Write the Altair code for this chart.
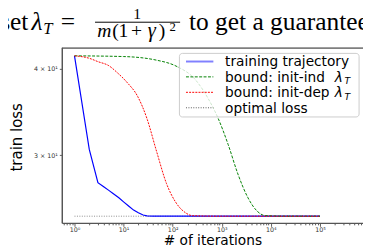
import altair as alt
import pandas as pd

# ---------------- data ----------------
train_iter = [1, 2, 3, 4, 5, 6, 8, 10, 13, 16, 20, 25, 30, 40, 100, 1000, 10000, 100000]
train_loss = [41.8, 30.6, 27.4, 27.0, 26.7, 26.45, 26.05, 25.7, 25.3, 25.0, 24.78, 24.6, 24.53, 24.5,
              24.5, 24.5, 24.5, 24.5]

ind_iter = [1, 10, 47, 117, 290, 535, 850, 1350, 2130, 3370, 5300, 7700, 20000, 100000]
ind_loss = [41.8, 41.7, 41.2, 40.4, 38.6, 36.2, 33.9, 31.1, 28.2, 26.1, 24.9, 24.55, 24.5, 24.5]

dep_iter = [1, 2, 3, 5, 7.5, 12, 19, 30, 47, 75, 118, 186, 254, 1000, 100000]
dep_loss = [41.8, 41.46, 41.0, 40.45, 39.5, 38.2, 36.6, 33.9, 30.4, 27.3, 25.6, 24.76, 24.54, 24.5, 24.5]

opt_iter = [1, 100000]
opt_loss = [24.5, 24.5]

x_major = [1, 10, 100, 1000, 10000, 100000]
x_minor = [m * 10.0 ** k for k in range(-1, 6) for m in range(2, 10)]
x_minor = [v for v in x_minor if 0.55 <= v <= 7.5e5]
y_ticks = [30, 40]

legend_labels = ["training trajectory", "bound: init-ind", "bound: init-dep", "optimal loss"]

# ---------------- chart ----------------
W, H = 308, 179.5
dummy = alt.Data(values=[{}])

xscale = alt.Scale(type="log", domain=[0.551, 7.53e5], nice=False)
yscale = alt.Scale(type="log", domain=[23.96, 43.0], nice=False, zero=False)

sup = {1: "10⁰", 10: "10¹", 100: "10²", 1000: "10³", 10000: "10⁴", 100000: "10⁵"}
label_expr = " : ".join([f"datum.value == {k} ? '{v}'" for k, v in sup.items()]) + " : ''"
major_test = "indexof([1,10,100,1000,10000,100000], datum.value) >= 0"

xaxis = alt.Axis(
    values=x_major + x_minor, labelExpr=label_expr, grid=False,
    tickSize={"condition": {"test": major_test, "value": 3.5}, "value": 2},
    tickWidth=0.8, tickColor="#333", labelFontSize=6.5, labelColor="#333",
    labelFont="DejaVu Sans", labelPadding=0.5, labelOverlap=False, labelFlush=False,
    domainColor="#555", domainWidth=1.5, title="# of iterations",
    titleFont="DejaVu Sans", titleFontSize=14, titleFontWeight="normal",
    titleColor="black", titleBaseline="alphabetic", titleY=22,
)
yaxis = alt.Axis(
    values=y_ticks, labelExpr="datum.value == 30 ? '3 × 10¹' : '4 × 10¹'", grid=False,
    tickSize=2.5, tickWidth=0.8, tickColor="#333", labelFontSize=6.5, labelColor="#333",
    labelFont="DejaVu Sans", labelPadding=2, labelOverlap=False, labelFlush=False,
    domainColor="#555", domainWidth=1.5, title="train loss",
    titleFont="DejaVu Sans", titleFontSize=15.3, titleFontWeight="normal",
    titleColor="black", titleAngle=270, titleBaseline="middle", titleAlign="center",
    titleX=-46, titleY=91.5,
)


def series(iters, losses, color, width, dash=None, interp="linear"):
    df = pd.DataFrame({"iter": iters, "loss": losses})
    kw = dict(color=color, strokeWidth=width, interpolate=interp)
    if dash:
        kw["strokeDash"] = dash
    return alt.Chart(df).mark_line(**kw).encode(
        x=alt.X("iter:Q", scale=xscale, axis=xaxis),
        y=alt.Y("loss:Q", scale=yscale, axis=yaxis),
    )


def txt(s, x, y, size, font="Liberation Serif", style="normal", align="left",
        baseline="alphabetic", color="black"):
    return alt.Chart(dummy).mark_text(
        text=s, font=font, fontSize=size, fontStyle=style, align=align,
        baseline=baseline, color=color
    ).encode(x=alt.value(x), y=alt.value(y))


def hrule(x1, x2, y, color, width, dash=None):
    kw = dict(color=color, strokeWidth=width)
    if dash:
        kw["strokeDash"] = dash
    return alt.Chart(dummy).mark_rule(**kw).encode(
        x=alt.value(x1), x2=alt.value(x2), y=alt.value(y))


layers = [
    series(opt_iter, opt_loss, "#8a8a8a", 1.0, [1, 1.5]),
    series(train_iter, train_loss, "#0000ff", 1.2),
    series(ind_iter, ind_loss, "#008000", 1.0, [3, 1.5], interp="monotone"),
    series(dep_iter, dep_loss, "#ff0000", 1.0, [2, 1.2], interp="monotone"),
    # top spine (spans the whole plot width)
    alt.Chart(dummy).mark_rule(color="#555", strokeWidth=1.5, clip=True)
    .encode(x=alt.value(0), x2=alt.value(W), y=alt.value(0.75)),
]

# legend
layers.append(
    alt.Chart(dummy).mark_rect(fill="white", fillOpacity=0.8, stroke="#cccccc",
                               strokeWidth=1, cornerRadius=3)
    .encode(x=alt.value(120.3), x2=alt.value(304), y=alt.value(6.2), y2=alt.value(71.2))
)
leg_y = [14.5, 30.2, 46, 61.8]
leg_style = [("#8080ff", 2.0, None), ("#008000", 1.0, [3, 1.5]),
             ("#ff0000", 1.0, [2, 1.2]), ("#555555", 1.0, [1, 1.5])]
for lab, yy, (c, w, d) in zip(legend_labels, leg_y, leg_style):
    layers.append(hrule(127, 155, yy, c, w, d))
    layers.append(txt(lab, 167, yy + 1, 14, font="DejaVu Sans", baseline="middle"))
for yy in leg_y[1:3]:
    layers.append(txt("λ", 279, yy + 1, 14, font="DejaVu Sans", style="italic", baseline="middle"))
    layers.append(txt("T", 289, yy + 4.5, 9.5, font="DejaVu Sans", style="italic", baseline="middle"))

# sentence above the figure (plot origin is at page x=63, y=45.5)
by = -17.3
layers += [
    txt("set", -63, by, 26),
    txt("λ", -31, by, 26, style="italic"),
    txt("T", -19, by + 3.3, 17, style="italic"),
    txt("=", -1, by, 26),
    txt("1", 77, -28.5, 16, align="center"),
    hrule(34, 121, -25.7, "black", 1),
    txt("m", 43.5, -10.5, 20, style="italic", align="center"),
    txt("(", 55, -10.5, 20, align="center"),
    txt("1", 63, -10.5, 20, align="center"),
    txt("+", 76.5, -10.5, 20, align="center"),
    txt("γ", 92, -10.5, 21, style="italic", align="center"),
    txt(")", 102.5, -10.5, 20, align="center"),
    txt("2", 113.5, -16.7, 13, align="center"),
    txt("to get a guarantee", 130, by, 26),
]

chart = alt.layer(*layers).properties(
    width=W, height=H,
    autosize=alt.AutoSizeParams(type="none"),
    padding={"left": 55, "top": 37.5, "right": 0, "bottom": 25},
).configure(background="white").configure_view(stroke=None)

chart.save("out.html", embed_options={"renderer": "svg", "actions": False})
